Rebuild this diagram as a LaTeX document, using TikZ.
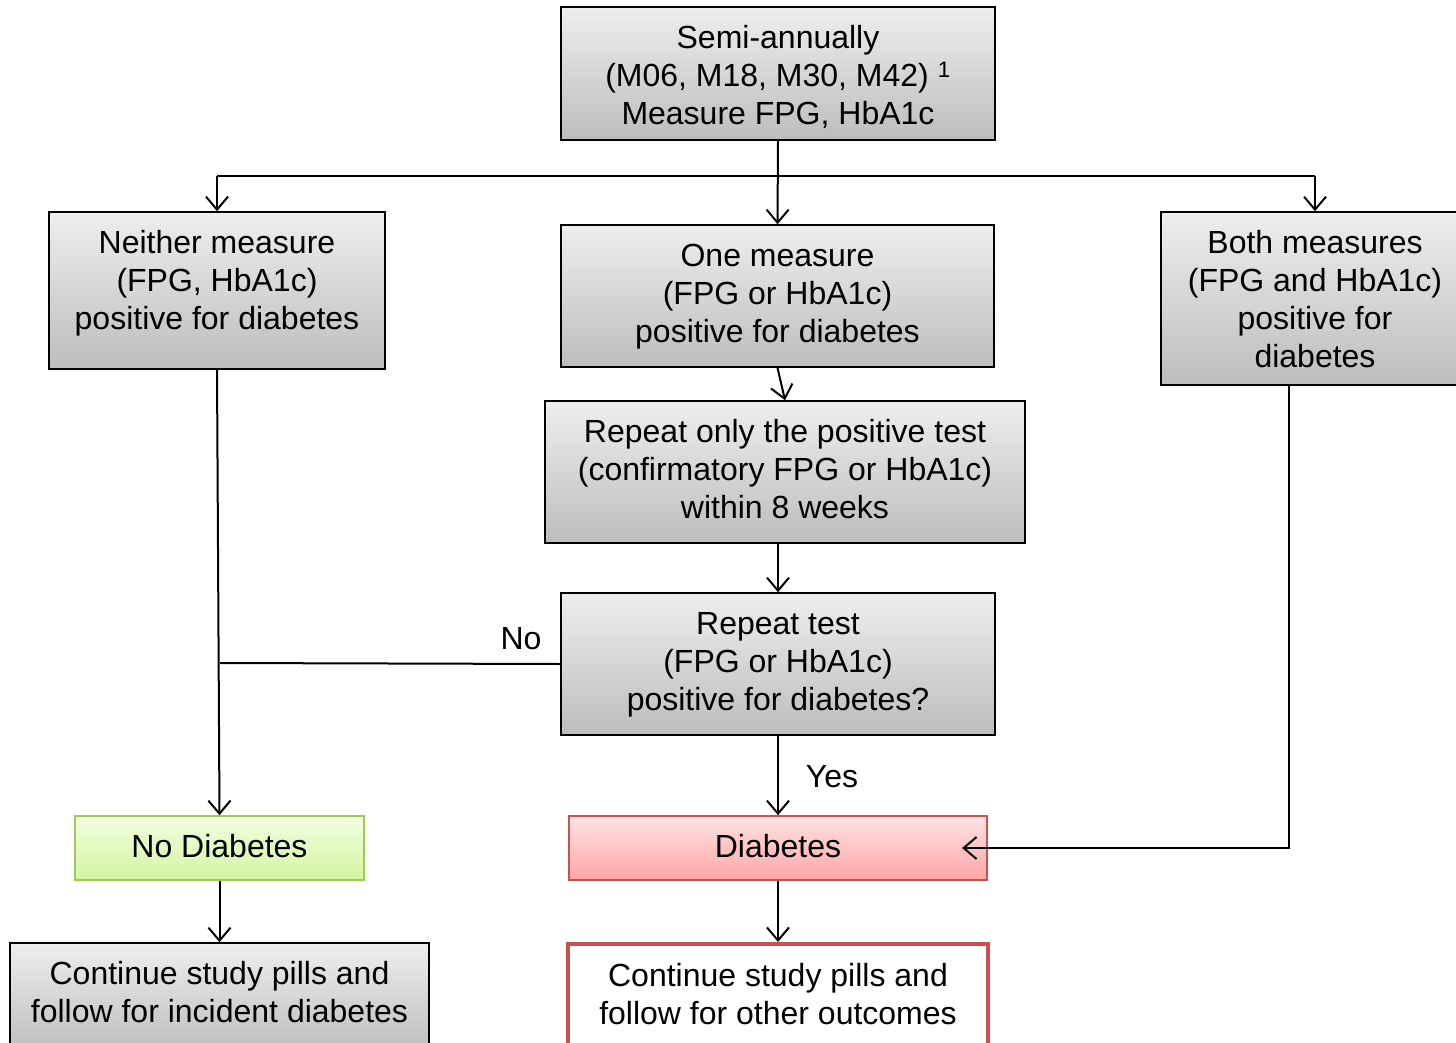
\documentclass[tikz,border=0pt]{standalone}
\usepackage{fontspec}
\setmainfont{Liberation Sans}
\usetikzlibrary{arrows.meta,calc}
\definecolor{gtop}{HTML}{EEEEEE}
\definecolor{gbot}{HTML}{BDBDBD}
\definecolor{grtop}{HTML}{F2FFE0}
\definecolor{grbot}{HTML}{D3F4A2}
\definecolor{grline}{HTML}{9BCB5C}
\definecolor{rdtop}{HTML}{FFE2E2}
\definecolor{rdbot}{HTML}{FFA6A6}
\definecolor{rdline}{HTML}{C9504D}
\begin{document}
\begin{tikzpicture}[x=1pt,y=-1pt,
  txt/.style={font={\fontsize{32}{38}\selectfont}, align=center, inner sep=0pt},
  box/.style={inner sep=0pt, draw=black, line width=1.6pt, top color=gtop, bottom color=gbot},
  greenbox/.style={inner sep=0pt, draw=grline, line width=1.6pt, top color=grtop, bottom color=grbot},
  redbox/.style={inner sep=0pt, draw=rdline, line width=1.6pt, top color=rdtop, bottom color=rdbot},
  outbox/.style={inner sep=0pt, draw=rdline, line width=4pt, fill=white},
  arr/.style={line width=2pt, -{Straight Barb[length=13pt,width=22pt,line width=2pt]}},
  lin/.style={line width=2pt}]
\useasboundingbox (0,0) rectangle (1456,1043);

% boxes
\node[box, minimum width=434, minimum height=133] (top) at (778,73.5) {};
\node[box, minimum width=336, minimum height=157] (neither) at (217,290.5) {};
\node[box, minimum width=433, minimum height=142] (one) at (777.5,296) {};
\node[box, minimum width=308, minimum height=173] (both) at (1315,298.5) {};
\node[box, minimum width=480, minimum height=142] (rep) at (785,472) {};
\node[box, minimum width=434, minimum height=142] (test) at (778,664) {};
\node[greenbox, minimum width=289, minimum height=64] (nod) at (219.5,848) {};
\node[redbox, minimum width=418, minimum height=64] (diab) at (778,848) {};
\node[box, minimum width=419, minimum height=110] (contl) at (219.5,998) {};
\node[outbox, minimum width=420, minimum height=110] (contr) at (778,999) {};

% box texts
\node[txt] (topt) at (778,77) {Semi-annually\\(M06, M18, M30, M42) \textsuperscript{1}\\Measure FPG, HbA1c};
\node[txt] (neithert) at (217,283) {Neither measure\\(FPG, HbA1c)\\positive for diabetes};
\node[txt] (onet) at (777.5,297) {One measure\\(FPG or HbA1c)\\positive for diabetes};
\node[txt] (botht) at (1315,299) {Both measures\\(FPG and HbA1c)\\positive for\\diabetes};
\node[txt] (rept) at (785,469) {Repeat only the positive test\\(confirmatory FPG or HbA1c)\\within 8 weeks};
\node[txt] (testt) at (778,665) {Repeat test\\(FPG or HbA1c)\\positive for diabetes?};
\node[txt] (nodt) at (219.5,846) {No Diabetes};
\node[txt] (diabt) at (778,846) {Diabetes};
\node[txt] (contlt) at (219.5,992) {Continue study pills and\\follow for incident diabetes};
\node[txt] (contrt) at (778,994) {Continue study pills and\\follow for other outcomes};

\coordinate (hb) at (778,176);
\coordinate (nojoin) at (220,663);
\coordinate (dend) at (962,848);

\draw[arr] (top.south) -- (one.north);
\draw[lin] (hb -| neither.north) -- (hb -| both.north);
\draw[arr] (hb -| neither.north) -- (neither.north);
\draw[arr] (hb -| both.north) -- (both.north);
\draw[arr] (neither.south) -- (nod.north);
\draw[lin] (test.west) -- (nojoin);
\draw[arr] (one.south) -- (rep.north);
\draw[arr] (test.north |- rep.south) -- (test.north);
\draw[arr] (test.south) -- (diab.north);
\draw[arr] ([xshift=-26pt]both.south) |- (dend);
\draw[arr] (nod.south) -- (contl.north);
\draw[arr] (diab.south) -- (contr.north);

\node[txt] (nolbl) at (521,639) {No};
\node[txt] (yeslbl) at (832,777) {Yes};
\end{tikzpicture}
\end{document}
